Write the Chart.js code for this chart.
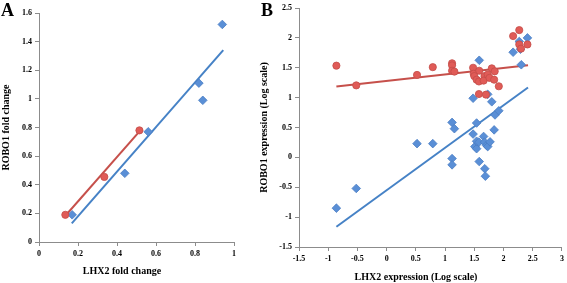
<!DOCTYPE html>
<html><head><meta charset="utf-8">
<script src="https://cdn.jsdelivr.net/npm/chart.js@4.4.1/dist/chart.umd.min.js"></script>
<style>
html,body{margin:0;padding:0;background:#fff;overflow:hidden}
#wa{position:absolute;left:0;top:0;width:240px;height:283px}
#wb{position:absolute;left:255px;top:0;width:312px;height:283px}
</style></head><body>
<div id="wa"><canvas id="ca"></canvas></div>
<div id="wb"><canvas id="cb"></canvas></div>
<script>
// ---- Panel A data ----
const aBlueX = [0.17, 0.44, 0.56, 0.82, 0.84, 0.94];
const aBlueY = [0.19, 0.48, 0.77, 1.11, 0.99, 1.52];
const aRedX = [0.135, 0.335, 0.515];
const aRedY = [0.19, 0.455, 0.78];
const aBlueTrendX = [0.168, 0.945];
const aBlueTrendY = [0.13, 1.34];
const aRedTrendX = [0.133, 0.52];
const aRedTrendY = [0.18, 0.78];
const aXTicks = [0, 0.2, 0.4, 0.6, 0.8, 1];
const aYTicks = [0, 0.2, 0.4, 0.6, 0.8, 1, 1.2, 1.4, 1.6];

// ---- Panel B data ----
const bBlueX = [-0.86, -0.52, 0.52, 0.79, 1.12, 1.16, 1.12, 1.12, 1.48, 1.585, 1.48, 1.54, 1.51, 1.54, 1.54, 1.58, 1.585, 1.66, 1.675, 1.68, 1.69, 1.71, 1.73, 1.77, 1.73, 1.80, 1.84, 1.855, 1.92, 2.165, 2.27, 2.29, 2.41, 2.305];
const bBlueY = [-0.85, -0.52, 0.23, 0.23, 0.585, 0.48, -0.02, -0.125, 0.99, 1.625, 0.39, 0.575, 0.18, 0.145, 0.27, 0.255, -0.07, 0.35, 0.255, -0.19, -0.315, 0.2, 0.18, 0.26, 1.055, 0.93, 0.46, 0.71, 0.78, 1.76, 1.94, 1.81, 2.0, 1.55];
const bRedX = [-0.86, -0.52, 0.52, 0.79, 1.12, 1.12, 1.12, 1.16, 1.48, 1.49, 1.585, 1.50, 1.54, 1.58, 1.675, 1.66, 1.73, 1.76, 1.80, 1.85, 1.84, 1.92, 1.58, 1.70, 2.165, 2.27, 2.27, 2.30, 2.41];
const bRedY = [1.535, 1.205, 1.38, 1.51, 1.575, 1.54, 1.45, 1.435, 1.5, 1.4, 1.45, 1.36, 1.30, 1.27, 1.36, 1.285, 1.385, 1.33, 1.49, 1.44, 1.30, 1.19, 1.06, 1.05, 2.03, 2.13, 1.89, 1.82, 1.89];
const bBlueTrendX = [-0.86, 2.42];
const bBlueTrendY = [-1.16, 1.17];
const bRedTrendX = [-0.86, 2.42];
const bRedTrendY = [1.185, 1.54];
const bXTicks = [-1.5, -1, -0.5, 0, 0.5, 1, 1.5, 2, 2.5, 3];
const bYTicks = [-1.5, -1, -0.5, 0, 0.5, 1, 1.5, 2, 2.5];

const BLUE_FILL = '#5a8fd6', BLUE_EDGE = '#4a7ec4', BLUE_LINE = '#4682c6';
const RED_FILL = '#e05b57', RED_EDGE = '#c44d49', RED_LINE = '#c6504b';
const TICK_FONT = {family: '"Liberation Serif", serif', size: 8, weight: 'bold'};
const AXIS_GREY = '#8c8c8c';

function pts(xs, ys) { return xs.map((x, i) => ({x: x, y: ys[i]})); }

function axis(min, max, ticks, fitKey, fitVal) {
  return {
    type: 'linear', min: min, max: max,
    afterBuildTicks: s => { s.ticks = ticks.map(v => ({value: v})); },
    afterFit: s => { s[fitKey] = fitVal; },
    ticks: {color: '#000', font: TICK_FONT, padding: 3, autoSkip: false, maxRotation: 0,
            callback: v => String(v)},
    grid: {drawOnChartArea: false, drawTicks: true, tickLength: 4, color: AXIS_GREY},
    border: {color: AXIS_GREY, width: 1}
  };
}

function labelsPlugin(o) {
  return {
    id: 'lbl',
    afterDraw(chart) {
      const ctx = chart.ctx;
      ctx.save();
      ctx.fillStyle = '#000';
      ctx.font = 'bold 18px "Liberation Serif", serif';
      ctx.textAlign = 'left'; ctx.textBaseline = 'alphabetic';
      ctx.fillText(o.panel, o.px, o.py);
      ctx.font = 'bold 10px "Liberation Serif", serif';
      ctx.textAlign = 'center'; ctx.textBaseline = 'middle';
      ctx.fillText(o.xTitle, o.xtx, o.xty);
      const a = chart.chartArea;
      ctx.translate(o.ytx, (a.top + a.bottom) / 2);
      ctx.rotate(-Math.PI / 2);
      ctx.fillText(o.yTitle, 0, 0);
      ctx.restore();
    }
  };
}

function makeChart(id, d, o) {
  return new Chart(document.getElementById(id), {
    type: 'scatter',
    data: {datasets: [
      {data: pts(d.rx, d.ry), pointStyle: 'circle', pointRadius: 3.6, backgroundColor: RED_FILL, borderColor: RED_EDGE, borderWidth: 0.8},
      {data: pts(d.bx, d.by), pointStyle: 'rectRot', pointRadius: 4.3, backgroundColor: BLUE_FILL, borderColor: BLUE_EDGE, borderWidth: 0.8},
      {data: pts(d.rtx, d.rty), showLine: true, pointRadius: 0, borderColor: RED_LINE, borderWidth: 2, fill: false},
      {data: pts(d.btx, d.bty), showLine: true, pointRadius: 0, borderColor: BLUE_LINE, borderWidth: 2, fill: false}
    ]},
    options: {
      responsive: true, maintainAspectRatio: false, animation: false,
      layout: {padding: o.pad},
      plugins: {legend: {display: false}, tooltip: {enabled: false}},
      scales: {
        x: axis(o.xmin, o.xmax, o.xt, 'height', o.xh),
        y: axis(o.ymin, o.ymax, o.yt, 'width', o.yw)
      }
    },
    plugins: [labelsPlugin(o)]
  });
}

makeChart('ca',
  {rx: aRedX, ry: aRedY, bx: aBlueX, by: aBlueY, rtx: aRedTrendX, rty: aRedTrendY, btx: aBlueTrendX, bty: aBlueTrendY},
  {pad: {top: 13, right: 6, left: 0, bottom: 0}, xmin: 0, xmax: 1, xt: aXTicks, ymin: 0, ymax: 1.6, yt: aYTicks,
   xh: 41, yw: 39, panel: 'A', px: 1, py: 16, xTitle: 'LHX2 fold change', xtx: 122, xty: 271,
   yTitle: 'ROBO1 fold change', ytx: 6});

makeChart('cb',
  {rx: bRedX, ry: bRedY, bx: bBlueX, by: bBlueY, rtx: bRedTrendX, rty: bRedTrendY, btx: bBlueTrendX, bty: bBlueTrendY},
  {pad: {top: 8, right: 2, left: 0, bottom: 0}, xmin: -1.5, xmax: 3, xt: bXTicks, ymin: -1.5, ymax: 2.5, yt: bYTicks,
   xh: 36, yw: 44, panel: 'B', px: 6, py: 16, xTitle: 'LHX2 expression (Log scale)', xtx: 161, xty: 277,
   yTitle: 'ROBO1 expression (Log scale)', ytx: 9.5});
</script>
</body></html>
